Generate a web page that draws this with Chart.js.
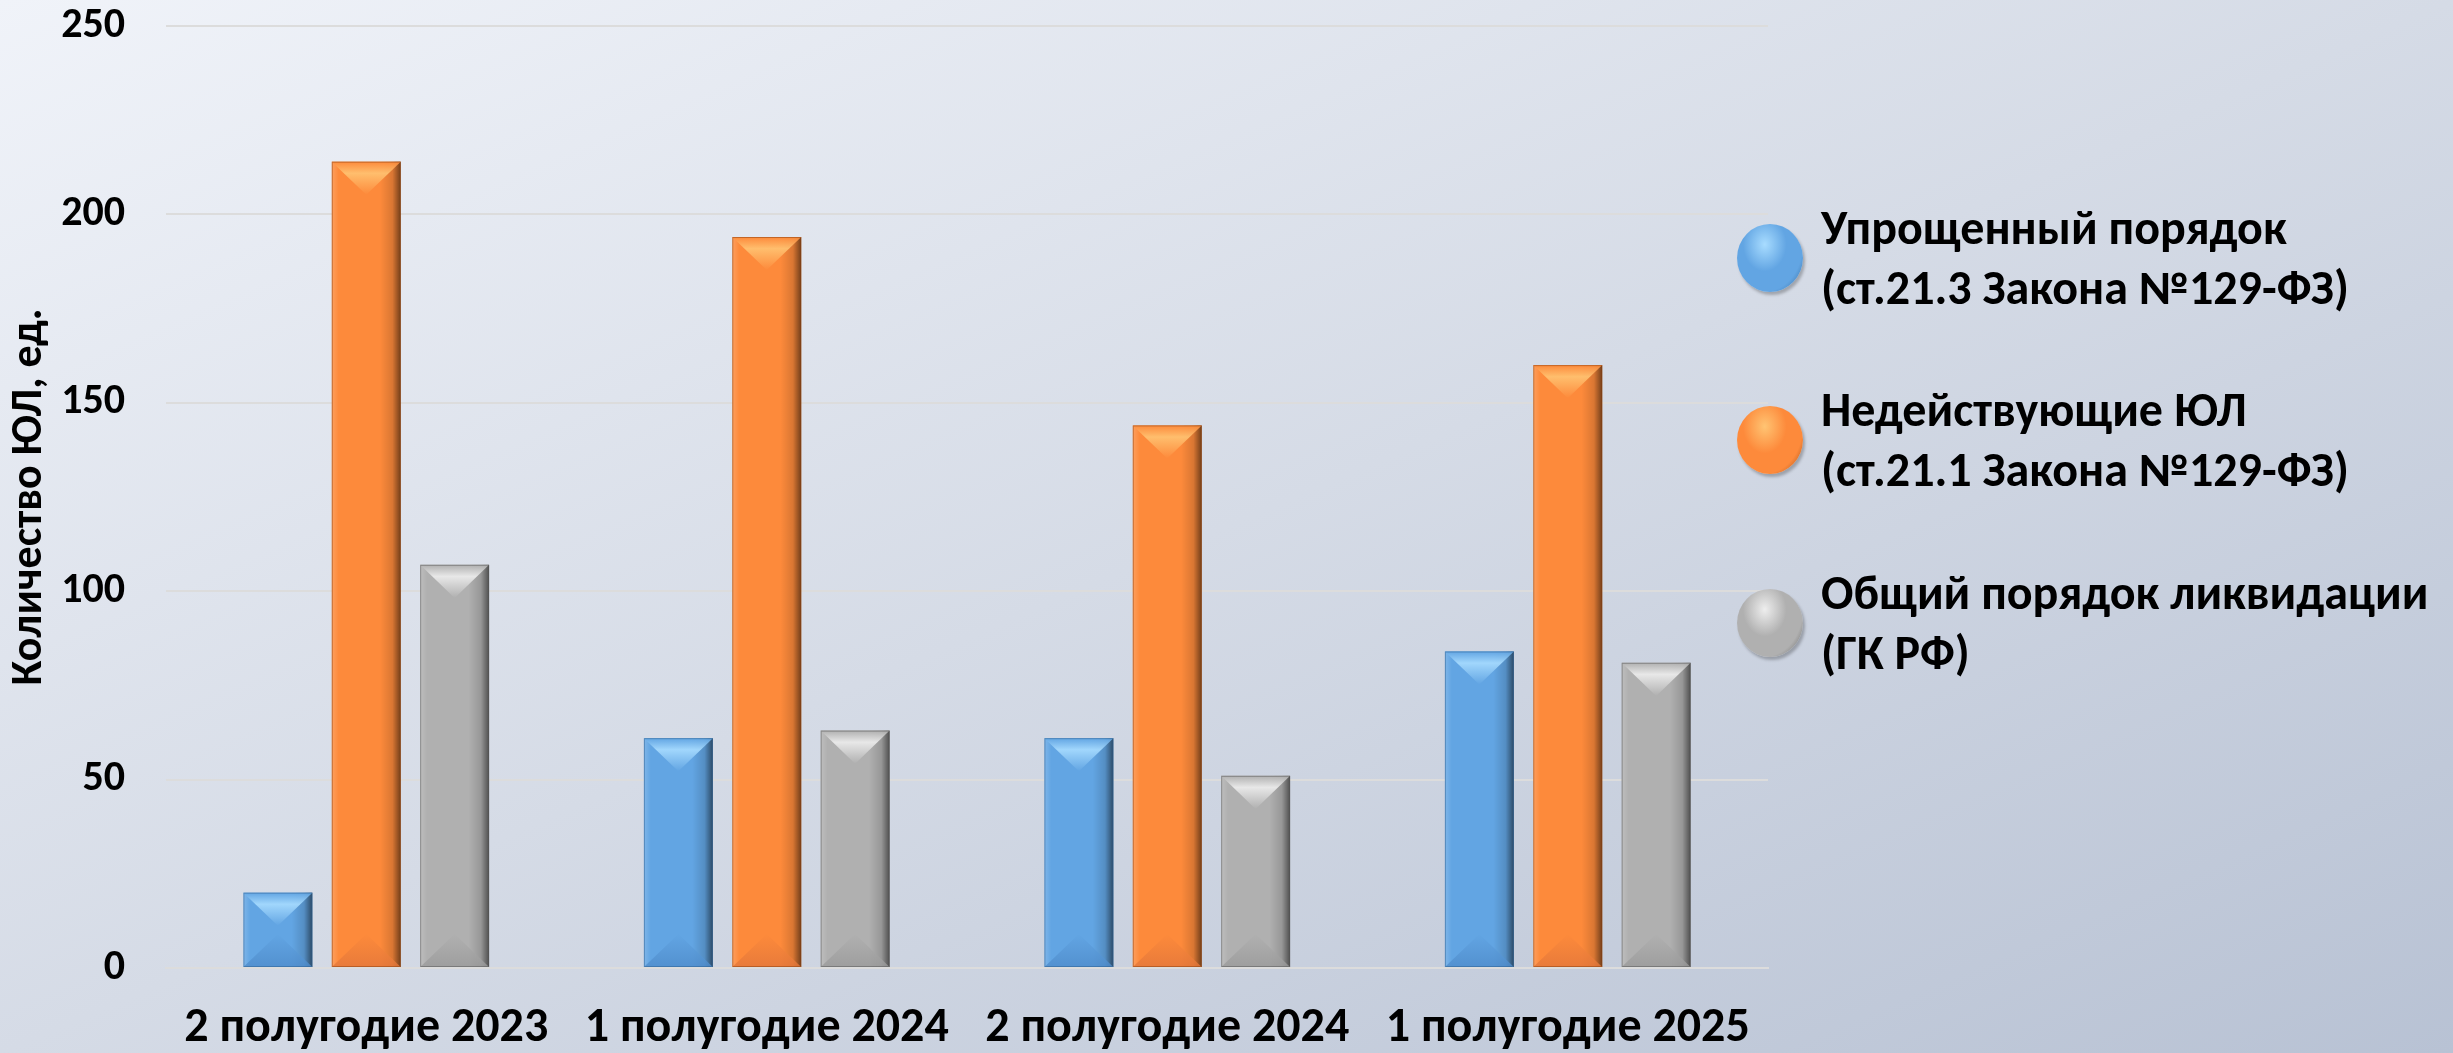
<!DOCTYPE html>
<html>
<head>
<meta charset="utf-8">
<script src="https://cdn.jsdelivr.net/npm/chart.js@4.4.1/dist/chart.umd.min.js"></script>
<style>
  html, body { margin: 0; padding: 0; }
  body {
    width: 2453px; height: 1053px; overflow: hidden; position: relative;
    background: linear-gradient(to bottom right, #f0f3f9 0%, #d5dbe6 50%, #b8c2d4 100%);
    font-family: Carlito, Calibri, "Open Sans", sans-serif;
  }
  #chart { position: absolute; left: 0; top: 0; }
  #legend { position: absolute; left: 0; top: 0; }
  .item { position: absolute; left: 1737px; display: flex; align-items: center; }
  .dot { width: 66px; height: 68px; border-radius: 50%; margin-right: 18px; flex: none; }
  .txt { font-weight: bold; font-size: 48px; line-height: 60px; color: #000; white-space: nowrap; }
</style>
</head>
<body>
<canvas id="chart" width="2453" height="1053"></canvas>
<div id="legend"></div>
<script>
// periods on the x axis
const periods = ['2 полугодие 2023', '1 полугодие 2024', '2 полугодие 2024', '1 полугодие 2025'];

// number of liquidated legal entities, by procedure
const simplified = [20, 61, 61, 84];
const inactive = [214, 194, 144, 160];
const general = [107, 63, 51, 81];

const legendLines = [
  ['Упрощенный порядок', '(ст.21.3 Закона №129-ФЗ)'],
  ['Недействующие ЮЛ', '(ст.21.1 Закона №129-ФЗ)'],
  ['Общий порядок ликвидации', '(ГК РФ)']
];

const fontFamily = 'Carlito, Calibri, "Open Sans", sans-serif';

// face colour, light bevel on top, dark edge on the right
const palette = [
  { face: '#62a5e3', light: '#a8dcff', dark: '#2d5f8f', low: '#4f8ccb' },
  { face: '#fd8a3b', light: '#ffc473', dark: '#8a3f10', low: '#e3773a' },
  { face: '#b0b0b0', light: '#eeeeee', dark: '#555555', low: '#9a9a9a' }
];

// bevelled look of the bars, drawn on top of each bar element
const bevelPlugin = {
  id: 'bevel',
  afterDatasetsDraw(chart) {
    const ctx = chart.ctx;
    chart.data.datasets.forEach((ds, i) => {
      const pal = palette[i];
      chart.getDatasetMeta(i).data.forEach(bar => {
        const l = bar.x - bar.width / 2;
        const r = bar.x + bar.width / 2;
        const t = bar.y;
        const b = bar.base;
        const w = r - l;
        const h = b - t;
        const d = Math.min(w * 0.48, h / 2);
        ctx.save();

        // side shading
        const g = ctx.createLinearGradient(l, 0, r, 0);
        g.addColorStop(0, 'rgba(255,255,255,0.18)');
        g.addColorStop(0.1, 'rgba(255,255,255,0)');
        g.addColorStop(0.7, 'rgba(0,0,0,0)');
        g.addColorStop(0.88, 'rgba(0,0,0,0.14)');
        g.addColorStop(1, 'rgba(0,0,0,0.55)');
        ctx.fillStyle = g;
        ctx.fillRect(l, t, w, h);

        // top bevel
        ctx.beginPath();
        ctx.moveTo(l, t);
        ctx.lineTo(r, t);
        ctx.lineTo(bar.x, t + d);
        ctx.closePath();
        const gt = ctx.createLinearGradient(0, t, 0, t + d);
        gt.addColorStop(0, pal.face);
        gt.addColorStop(0.35, pal.light);
        gt.addColorStop(1, pal.face);
        ctx.fillStyle = gt;
        ctx.globalAlpha = 0.9;
        ctx.fill();

        // bottom bevel
        ctx.beginPath();
        ctx.moveTo(l, b);
        ctx.lineTo(r, b);
        ctx.lineTo(bar.x, b - d);
        ctx.closePath();
        const gb = ctx.createLinearGradient(0, b - d, 0, b);
        gb.addColorStop(0, pal.face);
        gb.addColorStop(1, pal.low);
        ctx.fillStyle = gb;
        ctx.globalAlpha = 0.8;
        ctx.fill();

        // thin outline
        ctx.globalAlpha = 0.5;
        ctx.strokeStyle = pal.dark;
        ctx.lineWidth = 1;
        ctx.strokeRect(l + 0.5, t + 0.5, w - 1, h - 1);
        ctx.restore();
      });
    });
  }
};

const ctx = document.getElementById('chart').getContext('2d');
new Chart(ctx, {
  type: 'bar',
  data: {
    labels: periods,
    datasets: [
      { label: legendLines[0].join(' '), data: simplified, backgroundColor: palette[0].face },
      { label: legendLines[1].join(' '), data: inactive, backgroundColor: palette[1].face },
      { label: legendLines[2].join(' '), data: general, backgroundColor: palette[2].face }
    ]
  },
  options: {
    responsive: false,
    animation: false,
    devicePixelRatio: 1,
    layout: { padding: { left: 0, right: 685, top: 26, bottom: 0 } },
    datasets: {
      bar: { categoryPercentage: 0.662, barPercentage: 0.78, borderWidth: 0 }
    },
    plugins: {
      legend: { display: false },
      tooltip: { enabled: false }
    },
    scales: {
      x: {
        grid: { display: false, drawTicks: false },
        border: { display: true, color: '#dcdcdc', width: 2 },
        ticks: {
          color: '#000',
          padding: 32,
          maxRotation: 0,
          font: { family: fontFamily, size: 48, weight: 'bold' }
        },
        afterFit(scale) {
          scale.height = 85;
        }
      },
      y: {
        min: 0,
        max: 250,
        grid: { color: '#dcdcdc', lineWidth: 2, drawTicks: false },
        border: { display: false },
        ticks: {
          stepSize: 50,
          color: '#000',
          padding: 41,
          font: { family: fontFamily, size: 42, weight: 'bold' }
        },
        title: {
          display: true,
          text: 'Количество ЮЛ, ед.',
          color: '#000',
          padding: { top: 4, bottom: 0 },
          font: { family: fontFamily, size: 44, weight: 'bold' }
        },
        afterFit(scale) {
          // keep the plot area where the original has it
          scale.width = 166;
          scale.paddingTop = 0;
          scale.paddingBottom = 0;
        }
      }
    }
  },
  plugins: [bevelPlugin]
});

// legend on the right
const legendEl = document.getElementById('legend');
const itemTops = [198, 380, 563];
legendLines.forEach((lines, i) => {
  const pal = palette[i];
  const item = document.createElement('div');
  item.className = 'item';
  item.style.top = itemTops[i] + 'px';
  const dot = document.createElement('div');
  dot.className = 'dot';
  dot.style.background = 'radial-gradient(ellipse at 42% 30%, ' + pal.light + ' 0%, ' + pal.face + ' 40%, ' + pal.face + ' 70%, ' + pal.dark + ' 100%)';
  dot.style.boxShadow = '2px 3px 3px rgba(0,0,0,0.25)';
  const txt = document.createElement('div');
  txt.className = 'txt';
  txt.innerHTML = lines.join('<br>');
  item.appendChild(dot);
  item.appendChild(txt);
  legendEl.appendChild(item);
});
</script>
</body>
</html>
